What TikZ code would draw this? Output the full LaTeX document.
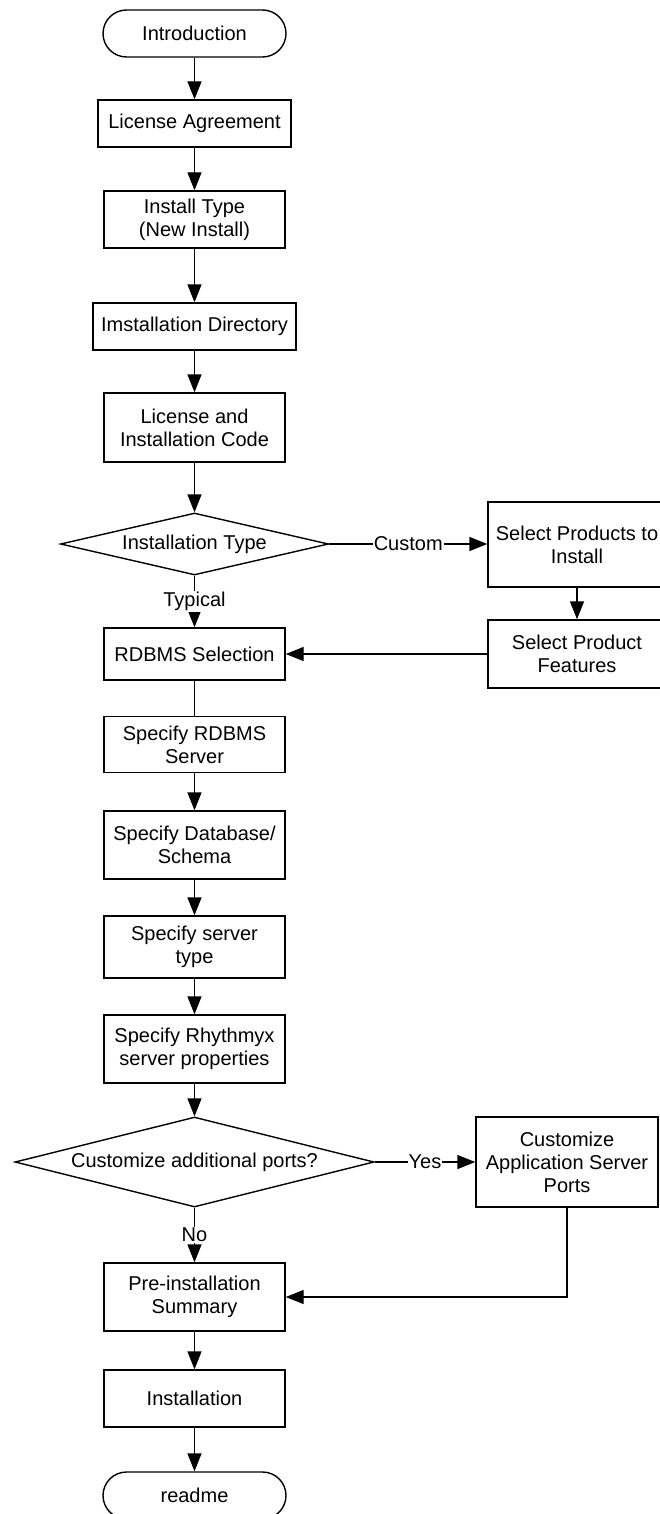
\documentclass[tikz,border=0pt]{standalone}
\usepackage{fontspec}
\setmainfont{Liberation Sans}
\usetikzlibrary{shapes.geometric,arrows.meta}

\begin{document}
\begin{tikzpicture}[x=1pt,y=-1pt,
    every node/.style={font=\fontsize{20}{23}\selectfont, align=center, inner sep=0pt},
    term/.style={draw, line width=1.4pt, rectangle, rounded corners=23.5pt, minimum width=183, minimum height=47},
    stepbox/.style={draw, line width=1.4pt, rectangle, minimum width=181},
    choice/.style={draw, line width=1.4pt, diamond, aspect=4.2},
    flow/.style={line width=1.4pt, -{Triangle[length=18pt,width=14pt]}},
    plain/.style={line width=1.4pt},
    tag/.style={fill=white, inner sep=1pt}]
    \useasboundingbox (0,0) rectangle (660,1514);
    \fill[white] (0,0) rectangle (660,1514);
    \node[term] (intro) at (194.5,33.5) {Introduction};
    \node[stepbox, minimum width=193, minimum height=47] (lic) at (194.5,123.5) {License Agreement};
    \node[stepbox, minimum height=57] (itype) at (194.5,219.5) {Install Type\\(New Install)};
    \node[stepbox, minimum width=203, minimum height=47] (idir) at (194.5,326.5) {Imstallation Directory};
    \node[stepbox, minimum height=69] (code) at (194.5,427.5) {License and\\Installation Code};
    \node[choice, minimum width=268, minimum height=62] (dec1) at (194.5,544) {Installation Type};
    \node[stepbox, minimum width=178, minimum height=85] (prod) at (577,544.5) {Select Products to\\Install};
    \node[stepbox, minimum width=178, minimum height=68] (feat) at (577,654) {Select Product\\Features};
    \node[stepbox, minimum height=52] (rdbms) at (194.5,654) {RDBMS Selection};
    \node[stepbox, minimum height=56] (srv) at (194.5,744.5) {Specify RDBMS\\Server};
    \node[stepbox, minimum height=68] (db) at (194.5,845) {Specify Database/\\Schema};
    \node[stepbox, minimum height=62] (stype) at (194.5,947) {Specify server\\type};
    \node[stepbox, minimum height=68] (rhy) at (194.5,1049) {Specify Rhythmyx\\server properties};
    \node[choice, minimum width=359, minimum height=90] (dec2) at (194.5,1162) {Customize additional ports?};
    \node[stepbox, minimum width=182, minimum height=90] (port) at (567,1162) {Customize\\Application Server\\Ports};
    \node[stepbox, minimum height=68] (pre) at (194.5,1297) {Pre-installation\\Summary};
    \node[stepbox, minimum height=57] (inst) at (194.5,1398.5) {Installation};
    \node[term] (readme) at (194.5,1495.5) {readme};
    \draw[flow] (intro) -- (lic);
    \draw[flow] (lic) -- (itype);
    \draw[flow] (itype) -- (idir);
    \draw[flow] (idir) -- (code);
    \draw[flow] (code) -- (dec1);
    \draw[flow] (dec1) -- node[tag] {Typical} (rdbms);
    \draw[flow] (dec1.east) -- node[tag] {Custom} (dec1.east -| prod.west);
    \draw[flow] (prod) -- (feat);
    \draw[flow] (feat) -- (rdbms);
    \draw[plain] (rdbms) -- (srv);
    \draw[flow] (srv) -- (db);
    \draw[flow] (db) -- (stype);
    \draw[flow] (stype) -- (rhy);
    \draw[flow] (rhy) -- (dec2);
    \draw[flow] (dec2) -- node[tag] {Yes} (port);
    \draw[flow] (dec2) -- node[tag] {No} (pre);
    \draw[flow] (port.south) |- (pre.east);
    \draw[flow] (pre) -- (inst);
    \draw[flow] (inst) -- (readme);
\end{tikzpicture}
\end{document}
